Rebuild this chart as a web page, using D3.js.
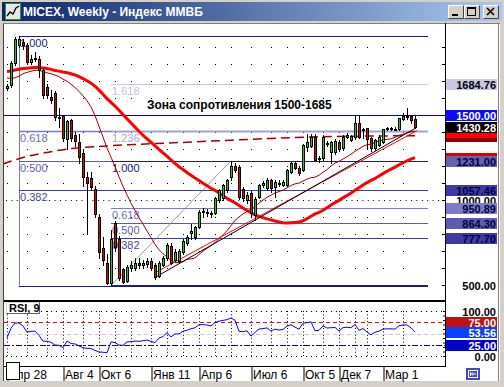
<!DOCTYPE html>
<html>
<head>
<meta charset="utf-8">
<script src="https://cdn.jsdelivr.net/npm/d3@7"></script>
<style>
html, body { margin: 0; padding: 0; background: #d4d0c8; overflow: hidden; }
svg { display: block; font-family: "Liberation Sans", Arial, sans-serif; }
</style>
</head>
<body>
<div id="chart"></div>
<script>
// weekly MICEX bars, first bar = week of 28 Apr 2008
var prevClose = [1660, 1680, 1700, 1690, 1700, 1720, 1740, 1760, 1780, 1800, 1830, 1800,
  1700, 1640, 1660, 1700, 1720, 1740, 1750, 1780, 1810, 1860, 1880, 1900, 1880,
  1890, 1860, 1820, 1850, 1880, 1900, 1890, 1880, 1860, 1760, 1620, 1650,
  1700, 1720, 1760, 1790, 1750, 1700, 1640, 1650, 1680, 1700, 1720, 1740, 1700, 1680];

var open = [1660, 1676, 1804, 1913, 1930, 1912, 1814, 1832, 1828, 1765, 1666, 1608, 1628, 1490, 1494, 1357, 1470, 1382, 1343, 1276,
  1137, 1128, 1063, 902, 716, 628, 514, 866, 769, 592, 525, 600, 600, 630, 620, 625, 641, 618, 553, 618,
  659, 729, 647, 641, 692, 745, 804, 784, 843, 928, 925, 925, 925, 1000, 1010, 1059, 1137, 1200, 1196, 1063,
  1000, 1043, 912, 1019, 1088, 1069, 1118, 1079, 1100, 1088, 1088, 1166, 1220, 1190, 1177, 1312, 1318, 1369, 1240, 1245,
  1330, 1282, 1280, 1343, 1304, 1372, 1353, 1369, 1455, 1418, 1421, 1363, 1304, 1323, 1343, 1416, 1418, 1416, 1416, 1475,
  1490, 1494, 1474];
var high = [1680, 1815, 1960, 1966, 1950, 1925, 1850, 1870, 1845, 1775, 1680, 1650, 1640, 1541, 1500, 1470, 1475, 1400, 1390, 1300,
  1165, 1165, 1080, 915, 784, 680, 823, 875, 790, 600, 615, 640, 660, 660, 650, 660, 660, 630, 640, 668,
  745, 748, 710, 710, 770, 795, 857, 850, 940, 955, 950, 935, 1015, 1065, 1095, 1125, 1231, 1215, 1205, 1075,
  1050, 1055, 1015, 1095, 1110, 1130, 1125, 1118, 1115, 1115, 1185, 1225, 1231, 1200, 1330, 1390, 1390, 1390, 1260, 1380,
  1345, 1350, 1360, 1355, 1380, 1392, 1385, 1500, 1500, 1425, 1425, 1370, 1360, 1380, 1420, 1430, 1430, 1428, 1485, 1510,
  1540, 1500, 1500];
var low = [1650, 1665, 1795, 1900, 1890, 1800, 1800, 1815, 1725, 1600, 1600, 1570, 1470, 1430, 1345, 1300, 1350, 1320, 1220, 1080,
  800, 1060, 900, 660, 620, 505, 498, 700, 530, 510, 520, 585, 590, 600, 600, 605, 590, 535, 545, 610,
  650, 625, 640, 630, 680, 735, 772, 770, 835, 900, 905, 900, 915, 990, 1000, 1050, 1120, 1165, 1005, 995,
  985, 905, 880, 1010, 1075, 1060, 1050, 1019, 1085, 1080, 1085, 1160, 1180, 1150, 1170, 1290, 1310, 1230, 1225, 1235,
  1320, 1216, 1270, 1290, 1295, 1365, 1345, 1360, 1365, 1365, 1304, 1290, 1295, 1315, 1335, 1410, 1410, 1410, 1410, 1470,
  1475, 1455, 1425];
var close = [1668, 1804, 1945, 1947, 1910, 1814, 1830, 1835, 1765, 1618, 1618, 1588, 1486, 1482, 1365, 1466, 1365, 1349, 1255, 1137,
  1098, 1078, 918, 696, 647, 514, 769, 725, 539, 519, 608, 615, 629, 615, 628, 640, 598, 549, 628, 657,
  735, 631, 696, 700, 759, 784, 819, 843, 931, 933, 928, 918, 1010, 1059, 1088, 1118, 1200, 1177, 1019, 1010,
  1030, 925, 1004, 1088, 1100, 1118, 1069, 1108, 1095, 1108, 1176, 1216, 1186, 1160, 1323, 1340, 1372, 1235, 1245, 1372,
  1335, 1343, 1350, 1298, 1372, 1382, 1376, 1455, 1372, 1412, 1357, 1304, 1353, 1372, 1416, 1421, 1421, 1418, 1480, 1494,
  1495, 1470, 1430.28];

var tickIndex = [0, 14, 23, 36, 48, 61, 74, 83, 94];
var tickLabel = ["Апр 28", "Авг 4", "Окт 6", "Янв 11", "Апр 6", "Июл 6", "Окт 5", "Дек 7", "Мар 1"];
var monthIndex = [0, 5, 10, 14, 19, 23, 27, 31, 36, 40, 44, 48, 52, 56, 61, 66, 70, 74, 79, 83, 87, 90, 94, 99];

// long-term dashed average
var longIdx = [-1, 4, 10, 17, 25, 33, 45, 56, 66, 78, 90, 102];
var longVal = [1212, 1250, 1280, 1305, 1318, 1328, 1340, 1352, 1362, 1372, 1376, 1378];

// trend lines [index, value]
var blackTrend = [[37, 544], [102.5, 1428]];
var redTrend = [[37, 572], [102.5, 1408]];

// fibonacci tools
var fibA = { start: 3, low: 495.7, high: 1966.4, levels: [0, 0.382, 0.5, 0.618, 1] };
var fibB = { start: 26, end: 56, low: 497.4, high: 1231.2, levels: [0, 0.382, 0.5, 0.618, 1, 1.236, 1.618] };

var zoneText = "Зона сопротивления 1500-1685";
var zoneLevels = [1500, 1684.76];
var titleText = "MICEX, Weekly - Индекс ММВБ";
var rsiPeriod = 9;
var rsiLevels = [75, 50, 25];

var W = 504, H = 387;
var svg = d3.select('#chart').append('svg').attr('width', W).attr('height', H);

// ---------- window frame ----------
var defs = svg.append('defs');
var grad = defs.append('linearGradient').attr('id', 'tg');
grad.append('stop').attr('offset', '0%').attr('stop-color', '#0a246a');
grad.append('stop').attr('offset', '100%').attr('stop-color', '#a6caf0');
defs.append('clipPath').attr('id', 'cMain').append('rect').attr('x', 4).attr('y', 24).attr('width', 441).attr('height', 276);
defs.append('clipPath').attr('id', 'cRsi').append('rect').attr('x', 4).attr('y', 303).attr('width', 441).attr('height', 63);

svg.append('rect').attr('width', W).attr('height', H).attr('fill', '#d4d0c8');
svg.append('rect').attr('x', 2).attr('y', 2).attr('width', 500).attr('height', 19).attr('fill', 'url(#tg)');
svg.append('text').attr('x', 23).attr('y', 16).attr('fill', '#fff')
  .attr('font-size', 12).attr('font-weight', 'bold').text(titleText);

// little icon
var ic = svg.append('g').attr('transform', 'translate(5,3)');
ic.append('rect').attr('x', 0.5).attr('y', 0.5).attr('width', 15).attr('height', 16).attr('fill', '#e8e8e8').attr('stroke', '#3a8a3a');
ic.append('polyline').attr('points', '2,13 5,9 8,11 11,5 14,3').attr('fill', 'none').attr('stroke', '#000').attr('stroke-width', 1.3);

// title buttons
[448, 464, 483].forEach(function (bx, k) {
  var b = svg.append('g').attr('transform', 'translate(' + bx + ',5)');
  b.append('rect').attr('width', 16).attr('height', 14).attr('fill', '#d4d0c8');
  b.append('path').attr('d', 'M0.5,13.5V0.5H15.5').attr('stroke', '#fff').attr('fill', 'none');
  b.append('path').attr('d', 'M0.5,13.5H15.5V0.5').attr('stroke', '#404040').attr('fill', 'none');
  if (k === 0) b.append('rect').attr('x', 4).attr('y', 9).attr('width', 6).attr('height', 2).attr('fill', '#000');
  if (k === 1) {
    b.append('rect').attr('x', 3.5).attr('y', 2.5).attr('width', 8).attr('height', 8).attr('fill', 'none').attr('stroke', '#000');
    b.append('rect').attr('x', 3).attr('y', 2).attr('width', 9).attr('height', 2).attr('fill', '#000');
  }
  if (k === 2) b.append('path').attr('d', 'M4,3L11,10M11,3L4,10').attr('stroke', '#000').attr('stroke-width', 1.6);
});

// client area
svg.append('rect').attr('x', 3).attr('y', 23).attr('width', 497).attr('height', 358).attr('fill', '#fff');
svg.append('line').attr('x1', 3.5).attr('x2', 3.5).attr('y1', 23).attr('y2', 381).attr('stroke', '#404040');
svg.append('line').attr('x1', 3).attr('x2', 500).attr('y1', 23.5).attr('y2', 23.5).attr('stroke', '#808080');
svg.append('line').attr('x1', 498.5).attr('x2', 498.5).attr('y1', 23).attr('y2', 381).attr('stroke', '#808080');

// ---------- scales ----------
var x = d3.scaleLinear().domain([0, 102]).range([7, 415]);
var y = d3.scaleLinear().domain([500, 1500]).range([285, 115]);
var yR = d3.scaleLinear().domain([0, 100]).range([356, 311]);

// ---------- indicators ----------
var all = prevClose.concat(close);
var off = prevClose.length;
function sma(n) {
  return close.map(function (c, i) {
    var s = 0;
    for (var k = off + i - n + 1; k <= off + i; k++) s += all[k];
    return s / n;
  });
}
var ma20 = sma(20), ma52 = sma(52);

function rsi(vals, n) {
  var out = vals.map(function () { return null; });
  var g = 0, l = 0, k, d;
  for (k = 1; k <= n; k++) { d = vals[k] - vals[k - 1]; if (d > 0) g += d; else l -= d; }
  g /= n; l /= n; out[n] = 100 - 100 / (1 + g / l);
  for (k = n + 1; k < vals.length; k++) {
    d = vals[k] - vals[k - 1];
    g = (g * (n - 1) + Math.max(d, 0)) / n;
    l = (l * (n - 1) + Math.max(-d, 0)) / n;
    out[k] = l === 0 ? 100 : 100 - 100 / (1 + g / l);
  }
  return out.slice(off);
}
var rsiVals = rsi(all, rsiPeriod);

// ---------- main panel ----------
var main = svg.append('g').attr('clip-path', 'url(#cMain)');

// dot grid at month columns / 100 levels
var gridLevels = d3.range(600, 2000, 100).filter(function (v) { return v !== 1000; });
monthIndex.forEach(function (mi) {
  gridLevels.forEach(function (v) {
    main.append('rect').attr('x', Math.round(x(mi))).attr('y', Math.round(y(v))).attr('width', 1).attr('height', 1).attr('fill', '#000');
  });
});
main.append('line').attr('x1', 6).attr('x2', 444).attr('y1', Math.round(y(1000)) + 0.5).attr('y2', Math.round(y(1000)) + 0.5)
  .attr('stroke', '#000').attr('stroke-dasharray', '1,4.4');

// fibonacci
var fibColor = { '0': '#1c1c80', '0.382': '#3c3ca0', '0.5': '#5a5aae', '0.618': '#7a7ac0', '1': '#1c1c80', '1.236': '#a4a4d0', '1.618': '#c8c8e6' };
var fibText = { '0': '#1c1c80', '0.382': '#4848a4', '0.5': '#6060ac', '0.618': '#6e6eb4', '1': '#1c1c80', '1.236': '#a8a8d0', '1.618': '#c0c0de' };
var xEnd = 428;
function drawFib(f) {
  f.levels.forEach(function (lv) {
    var v = f.low + lv * (f.high - f.low);
    var yy = Math.round(y(v)) + 0.5;
    main.append('line').attr('x1', x(f.start)).attr('x2', xEnd).attr('y1', yy).attr('y2', yy)
      .attr('stroke', fibColor[String(lv)]).attr('stroke-width', lv === 1.236 || (f === fibA && lv === 0.618) ? 1.5 : 1);
    if (lv !== 0) {
      main.append('text').attr('x', x(f.start) + 1).attr('y', yy + 10).attr('font-size', 11)
        .attr('fill', fibText[String(lv)]).text(lv.toFixed(3));
    }
  });
}
main.append('line').attr('x1', x(fibA.start) + 0.5).attr('x2', x(fibA.start) + 0.5)
  .attr('y1', y(fibA.high)).attr('y2', y(fibA.low)).attr('stroke', '#808080');
drawFib(fibA);
drawFib(fibB);
main.append('line').attr('x1', x(fibB.start)).attr('y1', y(fibB.low)).attr('x2', x(fibB.end)).attr('y2', y(fibB.high))
  .attr('stroke', '#808080').attr('stroke-width', 0.8);

// resistance zone line at 1500
main.append('line').attr('x1', 4).attr('x2', 445).attr('y1', Math.round(y(zoneLevels[0])) + 0.5).attr('y2', Math.round(y(zoneLevels[0])) + 0.5)
  .attr('stroke', '#0000e0');
main.append('text').attr('x', 147).attr('y', 109).attr('font-size', 12).attr('font-weight', 'bold').attr('fill', '#000').text(zoneText);

// moving averages
var line = d3.line().x(function (d, i) { return x(i); }).y(function (d) { return y(d); });
main.append('path').datum(ma52).attr('d', line).attr('fill', 'none').attr('stroke', '#ff0000').attr('stroke-width', 3);
main.append('path').datum(ma20).attr('d', line).attr('fill', 'none').attr('stroke', '#a00000').attr('stroke-width', 1);
var longLine = d3.line().x(function (d) { return x(d[0]); }).y(function (d) { return y(d[1]); }).curve(d3.curveMonotoneX);
main.append('path').datum(longIdx.map(function (v, k) { return [v, longVal[k]]; })).attr('d', longLine)
  .attr('fill', 'none').attr('stroke', '#a00000').attr('stroke-width', 1.5).attr('stroke-dasharray', '9,5');

// trend lines
var tl = d3.line().x(function (d) { return x(d[0]); }).y(function (d) { return y(d[1]); });
main.append('path').datum(redTrend).attr('d', tl).attr('stroke', '#ff0000').attr('fill', 'none');
main.append('path').datum(blackTrend).attr('d', tl).attr('stroke', '#000').attr('fill', 'none');

// candles
var bars = main.selectAll('g.bar').data(close).enter().append('g').attr('class', 'bar');
bars.append('line')
  .attr('x1', function (d, i) { return x(i) + 0.5; }).attr('x2', function (d, i) { return x(i) + 0.5; })
  .attr('y1', function (d, i) { return Math.round(y(high[i])); })
  .attr('y2', function (d, i) { return Math.round(y(low[i])) + 1; })
  .attr('stroke', '#000');
bars.append('rect')
  .attr('x', function (d, i) { return x(i) - 0.5; })
  .attr('y', function (d, i) { return Math.round(y(Math.max(open[i], close[i]))) + 0.5; })
  .attr('width', 2)
  .attr('height', function (d, i) { return Math.max(1, Math.round(y(Math.min(open[i], close[i]))) - Math.round(y(Math.max(open[i], close[i])))); })
  .attr('fill', function (d, i) { return close[i] >= open[i] ? '#00dc00' : '#e80000'; })
  .attr('stroke', '#000');

// panel separator
svg.append('rect').attr('x', 4).attr('y', 300).attr('width', 442).attr('height', 2).attr('fill', '#000');

// ---------- RSI panel ----------
var rp = svg.append('g').attr('clip-path', 'url(#cRsi)');
monthIndex.forEach(function (mi) {
  rp.append('line').attr('x1', x(mi) + 0.5).attr('x2', x(mi) + 0.5).attr('y1', yR(100)).attr('y2', yR(0))
    .attr('stroke', '#000').attr('stroke-dasharray', '1,2.4');
});
[100, 0].forEach(function (v) {
  rp.append('line').attr('x1', 6).attr('x2', 444).attr('y1', Math.round(yR(v)) + 0.5).attr('y2', Math.round(yR(v)) + 0.5)
    .attr('stroke', '#000').attr('stroke-dasharray', '1,4');
});
var rsiStyle = { 75: ['#e01010', '4,3'], 50: ['#cccccc', '4,3'], 25: ['#0000e0', '6,2,2,2'] };
rsiLevels.forEach(function (v) {
  rp.append('line').attr('x1', 4).attr('x2', 445).attr('y1', Math.round(yR(v)) + 0.5).attr('y2', Math.round(yR(v)) + 0.5)
    .attr('stroke', rsiStyle[v][0]).attr('stroke-dasharray', rsiStyle[v][1]);
});
rp.append('path').datum(rsiVals).attr('d', d3.line().x(function (d, i) { return x(i); }).y(function (d) { return yR(d); }))
  .attr('fill', 'none').attr('stroke', '#0000ff').attr('stroke-width', 1);

var rl = svg.append('g').attr('transform', 'translate(6,302)');
rl.append('rect').attr('width', 34).attr('height', 12).attr('fill', '#fff');
rl.append('path').attr('d', 'M0.5,12V0.5H34').attr('stroke', '#d4d0c8').attr('fill', 'none');
rl.append('path').attr('d', 'M0.5,11.5H33.5V0').attr('stroke', '#606060').attr('fill', 'none');
rl.append('text').attr('x', 3).attr('y', 10).attr('font-size', 11).attr('font-weight', 'bold').text('RSI, 9');

// ---------- right axes ----------
svg.append('line').attr('x1', 445.5).attr('x2', 445.5).attr('y1', 23).attr('y2', 367).attr('stroke', '#000');
svg.append('g').attr('transform', 'translate(446,0)')
  .call(d3.axisLeft(y).tickValues(d3.range(500, 2000, 100)).tickSize(4).tickFormat(''))
  .call(function (g) { g.select('.domain').remove(); });
svg.append('g').attr('transform', 'translate(446,0)')
  .call(d3.axisLeft(yR).tickValues(d3.range(0, 101, 10)).tickSize(3).tickFormat(''))
  .call(function (g) { g.select('.domain').remove(); });

function tag(v, yScale, bg, fg, txt) {
  var cy = Math.round(yScale(v));
  var g = svg.append('g');
  if (bg) g.append('rect').attr('x', 446).attr('y', cy - 5).attr('width', 51).attr('height', 11).attr('fill', bg);
  if (txt !== null) {
    g.append('text').attr('x', 496).attr('y', cy + 4.5).attr('text-anchor', 'end').attr('font-size', 11)
      .attr('font-weight', 'bold').attr('fill', fg).text(txt || d3.format('.2f')(v));
  }
}
var last = close.length - 1;
// indicator end-value tags, mostly hidden under the other tags
tag(ma52[last], y, '#e00000', '#fff', null);
tag(longVal[longVal.length - 1], y, '#8c0000', '#fff', null);
tag(redTrend[1][1] - 6, y, '#ff0000', '#fff', null);
tag(1000, y, '#fff', '#000');
tag(fibA.low + 0.382 * (fibA.high - fibA.low), y, '#3c3ca4', '#000040', '1057.46');
tag(fibB.low + 0.618 * (fibB.high - fibB.low), y, '#7c7cc4', '#000040', '950.89');
tag(fibB.low + 0.5 * (fibB.high - fibB.low), y, '#5c5cb2', '#000040', '864.30');
tag(fibB.low + 0.382 * (fibB.high - fibB.low), y, '#3c3ca0', '#000040', '777.70');
tag(fibB.high, y, '#6262b0', '#000040', '1231.00');
tag(zoneLevels[1], y, '#c8c8e4', '#000');
tag(500, y, null, '#000');
tag(close[last], y, '#000', '#fff');
tag(zoneLevels[0], y, '#0a0aff', '#fff');
tag(100, yR, null, '#000');
tag(0, yR, null, '#000');
tag(75, yR, '#c01010', '#fff');
tag(rsiVals[last], yR, '#0a40ff', '#fff');
tag(25, yR, '#0000c8', '#fff');

// ---------- date axis ----------
svg.append('line').attr('x1', 4).attr('x2', 446).attr('y1', 366.5).attr('y2', 366.5).attr('stroke', '#000');
svg.append('g').attr('transform', 'translate(0.5,367)')
  .call(d3.axisBottom(x).tickValues(tickIndex).tickSize(14).tickFormat(''))
  .call(function (g) { g.select('.domain').remove(); g.selectAll('line').attr('stroke', '#000'); });
tickIndex.forEach(function (ti, k) {
  svg.append('text').attr('x', x(ti) + 2).attr('y', 379).attr('font-size', 12).attr('fill', '#000').text(tickLabel[k]);
});
svg.append('rect').attr('x', 6.5).attr('y', 362.5).attr('width', 13).attr('height', 17).attr('fill', '#fff').attr('stroke', '#000');
var nb = svg.append('g').attr('transform', 'translate(466,368)');
nb.append('rect').attr('width', 14).attr('height', 12).attr('fill', '#4646c0');
nb.append('rect').attr('x', 2.5).attr('y', 2.5).attr('width', 9).attr('height', 7).attr('fill', 'none').attr('stroke', '#fff');
nb.append('path').attr('d', 'M4.5,4V8M10,6H5.5M7,4.5L5.5,6L7,7.5').attr('stroke', '#fff').attr('fill', 'none');
</script>
</body>
</html>
